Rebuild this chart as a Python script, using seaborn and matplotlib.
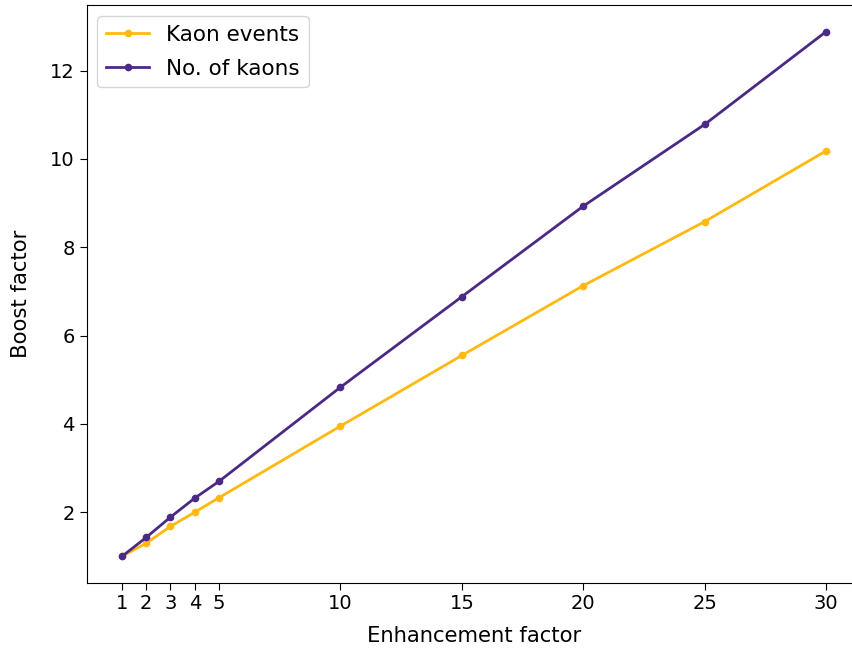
import matplotlib
matplotlib.use("Agg")
import matplotlib.pyplot as plt
import seaborn as sns
import pandas as pd

enhancement = [1, 2, 3, 4, 5, 10, 15, 20, 25, 30]
kaon_events = [1.00, 1.30, 1.68, 2.00, 2.33, 3.95, 5.55, 7.13, 8.58, 10.18]
num_kaons = [1.00, 1.43, 1.89, 2.32, 2.70, 4.83, 6.88, 8.93, 10.78, 12.88]

series_names = ["Kaon events", "No. of kaons"]
colors = ["#FFB90F", "#4B2A86"]

df = pd.DataFrame({
    "Enhancement factor": enhancement * 2,
    "Boost factor": kaon_events + num_kaons,
    "series": [series_names[0]] * len(enhancement) + [series_names[1]] * len(enhancement),
})

fig, ax = plt.subplots(figsize=(8.52, 6.51), dpi=100)
fig.subplots_adjust(left=0.1018, right=1.0108, top=0.9916, bottom=0.105)

sns.lineplot(data=df, x="Enhancement factor", y="Boost factor", hue="series",
             palette=colors, marker="o", markersize=5.5, markeredgewidth=0,
             linewidth=2, ax=ax)

ax.set_xticks(enhancement)
ax.set_yticks([2, 4, 6, 8, 10, 12])
ax.tick_params(labelsize=14, length=5)
ax.set_xlabel("Enhancement factor", fontsize=15.2, labelpad=9)
ax.set_ylabel("Boost factor", fontsize=15.2, labelpad=14)
ax.legend(title=None, loc="upper left", fontsize=15.5, labelspacing=0.65)

fig.savefig("out.png", dpi=100)
